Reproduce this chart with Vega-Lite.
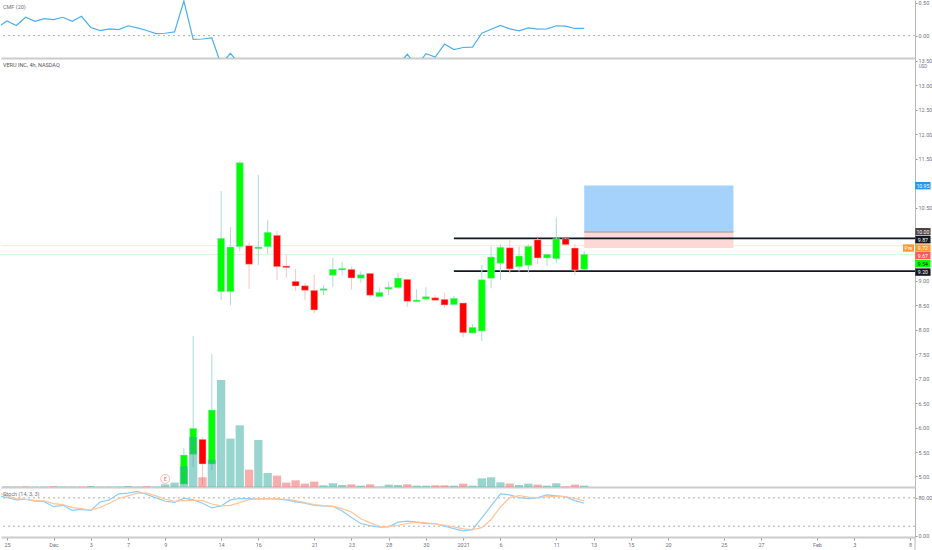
{
  "$schema": "https://vega.github.io/schema/vega-lite/v6.json",
  "background": "#ffffff",
  "padding": 0,
  "spacing": 0,
  "bounds": "flush",
  "config": {
    "view": {"stroke": null},
    "font": "Roboto",
    "axis": {"grid": false, "title": null, "labelFont": "Roboto", "labelFontSize": 5.5, "labelColor": "#6f7380", "labelOverlap": false, "labelBound": false, "labelFlush": false}
  },
  "datasets": {
    "candles": [
      {"bar":19,"open":4.846,"high":5.589,"low":4.826,"close":5.439},
      {"bar":20,"open":5.454,"high":7.873,"low":5.194,"close":5.985},
      {"bar":21,"open":5.76,"high":5.8,"low":4.826,"close":5.255},
      {"bar":22,"open":5.255,"high":7.505,"low":5.133,"close":6.36},
      {"bar":23,"open":8.779,"high":10.838,"low":8.609,"close":9.871},
      {"bar":24,"open":8.779,"high":10.096,"low":8.507,"close":9.693},
      {"bar":25,"open":9.699,"high":11.452,"low":9.611,"close":11.417},
      {"bar":26,"open":9.719,"high":9.789,"low":8.834,"close":9.339},
      {"bar":27,"open":9.658,"high":11.165,"low":9.325,"close":9.693},
      {"bar":28,"open":9.699,"high":10.251,"low":9.55,"close":9.994},
      {"bar":29,"open":9.932,"high":10.026,"low":9.018,"close":9.29},
      {"bar":30,"open":9.304,"high":9.544,"low":9.065,"close":9.27},
      {"bar":31,"open":8.991,"high":9.243,"low":8.793,"close":8.895},
      {"bar":32,"open":8.901,"high":8.951,"low":8.609,"close":8.807},
      {"bar":33,"open":8.807,"high":9.126,"low":8.337,"close":8.405},
      {"bar":34,"open":8.807,"high":8.91,"low":8.711,"close":8.84},
      {"bar":35,"open":9.114,"high":9.474,"low":8.881,"close":9.237},
      {"bar":36,"open":9.223,"high":9.38,"low":9.114,"close":9.257},
      {"bar":37,"open":9.237,"high":9.29,"low":8.82,"close":9.059},
      {"bar":38,"open":9.053,"high":9.196,"low":8.963,"close":9.126},
      {"bar":39,"open":9.155,"high":9.155,"low":8.656,"close":8.705},
      {"bar":40,"open":8.677,"high":8.869,"low":8.677,"close":8.766},
      {"bar":41,"open":8.834,"high":8.983,"low":8.711,"close":8.869},
      {"bar":42,"open":8.861,"high":9.161,"low":8.848,"close":9.059},
      {"bar":43,"open":9.032,"high":9.032,"low":8.472,"close":8.582},
      {"bar":44,"open":8.574,"high":8.828,"low":8.574,"close":8.609},
      {"bar":45,"open":8.629,"high":8.869,"low":8.609,"close":8.677},
      {"bar":46,"open":8.656,"high":8.711,"low":8.589,"close":8.603},
      {"bar":47,"open":8.623,"high":8.758,"low":8.452,"close":8.507},
      {"bar":48,"open":8.513,"high":8.691,"low":8.507,"close":8.644},
      {"bar":49,"open":8.548,"high":8.548,"low":7.846,"close":7.94},
      {"bar":50,"open":7.934,"high":8.118,"low":7.92,"close":8.051},
      {"bar":51,"open":7.975,"high":9.325,"low":7.771,"close":9.024},
      {"bar":52,"open":9.053,"high":9.707,"low":8.848,"close":9.488},
      {"bar":53,"open":9.36,"high":9.748,"low":9.024,"close":9.687},
      {"bar":54,"open":9.679,"high":9.85,"low":9.155,"close":9.243},
      {"bar":55,"open":9.29,"high":9.707,"low":9.188,"close":9.509},
      {"bar":56,"open":9.319,"high":9.748,"low":9.167,"close":9.707},
      {"bar":57,"open":9.842,"high":9.871,"low":9.345,"close":9.468},
      {"bar":58,"open":9.468,"high":9.544,"low":9.304,"close":9.544},
      {"bar":59,"open":9.454,"high":10.3,"low":9.366,"close":9.863},
      {"bar":60,"open":9.863,"high":9.871,"low":9.72,"close":9.74},
      {"bar":61,"open":9.672,"high":9.754,"low":9.12,"close":9.223},
      {"bar":62,"open":9.237,"high":9.617,"low":9.223,"close":9.544}
    ],
    "volume": [
      {"bar":0,"vol":5,"dir":"up"},{"bar":1,"vol":4,"dir":"up"},{"bar":2,"vol":6,"dir":"down"},{"bar":3,"vol":4,"dir":"up"},{"bar":4,"vol":5,"dir":"up"},
      {"bar":5,"vol":9,"dir":"down"},{"bar":6,"vol":4,"dir":"up"},{"bar":7,"vol":5,"dir":"up"},{"bar":8,"vol":5,"dir":"down"},{"bar":9,"vol":10,"dir":"up"},
      {"bar":10,"vol":4,"dir":"up"},{"bar":11,"vol":4,"dir":"up"},{"bar":12,"vol":5,"dir":"up"},{"bar":13,"vol":10,"dir":"up"},{"bar":14,"vol":4,"dir":"up"},
      {"bar":15,"vol":9,"dir":"down"},{"bar":16,"vol":5,"dir":"up"},{"bar":17,"vol":27,"dir":"up"},{"bar":18,"vol":44,"dir":"up"},
      {"bar":19,"vol":207,"dir":"up"},{"bar":20,"vol":500,"dir":"up"},{"bar":21,"vol":97,"dir":"down"},{"bar":22,"vol":274,"dir":"up"},
      {"bar":23,"vol":1070,"dir":"up"},{"bar":24,"vol":484,"dir":"up"},{"bar":25,"vol":617,"dir":"up"},{"bar":26,"vol":174,"dir":"down"},
      {"bar":27,"vol":470,"dir":"up"},{"bar":28,"vol":140,"dir":"up"},{"bar":29,"vol":114,"dir":"down"},{"bar":30,"vol":44,"dir":"down"},
      {"bar":31,"vol":67,"dir":"down"},{"bar":32,"vol":34,"dir":"down"},{"bar":33,"vol":54,"dir":"down"},{"bar":34,"vol":17,"dir":"up"},
      {"bar":35,"vol":37,"dir":"up"},{"bar":36,"vol":20,"dir":"up"},{"bar":37,"vol":27,"dir":"down"},{"bar":38,"vol":14,"dir":"up"},
      {"bar":39,"vol":27,"dir":"down"},{"bar":40,"vol":4,"dir":"up"},{"bar":41,"vol":24,"dir":"up"},{"bar":42,"vol":20,"dir":"up"},
      {"bar":43,"vol":27,"dir":"down"},{"bar":44,"vol":14,"dir":"up"},{"bar":45,"vol":14,"dir":"up"},{"bar":46,"vol":17,"dir":"down"},
      {"bar":47,"vol":17,"dir":"down"},{"bar":48,"vol":14,"dir":"up"},{"bar":49,"vol":34,"dir":"down"},{"bar":50,"vol":14,"dir":"up"},
      {"bar":51,"vol":87,"dir":"up"},{"bar":52,"vol":97,"dir":"up"},{"bar":53,"vol":47,"dir":"up"},{"bar":54,"vol":34,"dir":"down"},
      {"bar":55,"vol":20,"dir":"up"},{"bar":56,"vol":34,"dir":"up"},{"bar":57,"vol":24,"dir":"down"},{"bar":58,"vol":14,"dir":"up"},
      {"bar":59,"vol":37,"dir":"up"},{"bar":60,"vol":7,"dir":"down"},{"bar":61,"vol":24,"dir":"down"},{"bar":62,"vol":14,"dir":"up"}
    ],
    "cmf": [
      {"bar":-1,"cmf":0.128},{"bar":0,"cmf":0.221},{"bar":1,"cmf":0.154},{"bar":2,"cmf":0.277},{"bar":3,"cmf":0.215},{"bar":4,"cmf":0.256},
      {"bar":5,"cmf":0.241},{"bar":6,"cmf":0.277},{"bar":7,"cmf":0.215},{"bar":8,"cmf":0.292},{"bar":9,"cmf":0.123},{"bar":10,"cmf":0.077},
      {"bar":11,"cmf":0.103},{"bar":12,"cmf":0.092},{"bar":13,"cmf":0.149},{"bar":14,"cmf":0.118},{"bar":15,"cmf":0.077},{"bar":16,"cmf":0.031},
      {"bar":17,"cmf":0.036},{"bar":18,"cmf":0.056},{"bar":19,"cmf":0.523},{"bar":20,"cmf":-0.056},{"bar":21,"cmf":-0.051},{"bar":22,"cmf":-0.036},
      {"bar":23,"cmf":-0.436},{"bar":24,"cmf":-0.267},{"bar":25,"cmf":-0.436},{"bar":30,"cmf":-0.6},{"bar":36,"cmf":-0.6},{"bar":42,"cmf":-0.45},
      {"bar":43,"cmf":-0.282},{"bar":44,"cmf":-0.46},{"bar":45,"cmf":-0.272},{"bar":46,"cmf":-0.323},{"bar":47,"cmf":-0.128},{"bar":48,"cmf":-0.21},
      {"bar":49,"cmf":-0.179},{"bar":50,"cmf":-0.174},{"bar":51,"cmf":0.036},{"bar":52,"cmf":0.097},{"bar":53,"cmf":0.154},{"bar":54,"cmf":0.103},
      {"bar":55,"cmf":0.072},{"bar":56,"cmf":0.118},{"bar":57,"cmf":0.097},{"bar":58,"cmf":0.103},{"bar":59,"cmf":0.149},{"bar":60,"cmf":0.144},
      {"bar":61,"cmf":0.108},{"bar":62,"cmf":0.108}
    ],
    "stoch": [
      {"bar":-1,"k":84.3,"d":91.4},{"bar":0,"k":80.7,"d":84.3},{"bar":1,"k":75.7,"d":78.6},{"bar":2,"k":77.1,"d":77.1},{"bar":3,"k":72.9,"d":74.3},
      {"bar":4,"k":72.1,"d":73.6},{"bar":5,"k":61.4,"d":67.9},{"bar":6,"k":64.3,"d":65.7},{"bar":7,"k":53.6,"d":59.3},{"bar":8,"k":55.7,"d":57.1},
      {"bar":9,"k":53.6,"d":54.3},{"bar":10,"k":71.4,"d":60},{"bar":11,"k":75.7,"d":68.6},{"bar":12,"k":88.6,"d":78.6},{"bar":13,"k":90,"d":84.3},
      {"bar":14,"k":93.6,"d":90},{"bar":15,"k":87.1,"d":90},{"bar":16,"k":80,"d":84.3},{"bar":17,"k":72.9,"d":77.1},{"bar":18,"k":70.7,"d":72.9},
      {"bar":19,"k":79.3,"d":74.3},{"bar":20,"k":75.7,"d":75},{"bar":21,"k":68.6,"d":74.3},{"bar":22,"k":58.6,"d":67.1},{"bar":23,"k":62.9,"d":62.9},
      {"bar":24,"k":75.7,"d":64.3},{"bar":25,"k":78.6,"d":70},{"bar":26,"k":78.6,"d":76.4},{"bar":27,"k":77.1,"d":78.6},{"bar":28,"k":78.6,"d":77.9},
      {"bar":29,"k":77.1,"d":77.9},{"bar":30,"k":75.7,"d":77.1},{"bar":31,"k":71.4,"d":74.3},{"bar":32,"k":68.6,"d":70},{"bar":33,"k":64.3,"d":65.7},
      {"bar":34,"k":62.9,"d":63.6},{"bar":35,"k":62.1,"d":62.1},{"bar":36,"k":52.1,"d":57.1},{"bar":37,"k":38.6,"d":50},{"bar":38,"k":25.7,"d":35.7},
      {"bar":39,"k":21.4,"d":27.1},{"bar":40,"k":17.9,"d":20},{"bar":41,"k":18.6,"d":19.3},{"bar":42,"k":28.6,"d":22.1},{"bar":43,"k":30.7,"d":25.7},
      {"bar":44,"k":28.6,"d":28.6},{"bar":45,"k":25.7,"d":27.1},{"bar":46,"k":25.7,"d":25},{"bar":47,"k":20,"d":22.1},{"bar":48,"k":15,"d":18.6},
      {"bar":49,"k":10,"d":14.3},{"bar":50,"k":12.9,"d":12.9},{"bar":51,"k":37.9,"d":17.1},{"bar":52,"k":62.9,"d":34.3},{"bar":53,"k":88.6,"d":60.7},
      {"bar":54,"k":86.4,"d":80.7},{"bar":55,"k":80.7,"d":85},{"bar":56,"k":78.6,"d":81.4},{"bar":57,"k":80.7,"d":80.7},{"bar":58,"k":86.4,"d":82.1},
      {"bar":59,"k":84.3,"d":83.6},{"bar":60,"k":82.1,"d":82.9},{"bar":61,"k":74.3,"d":78.6},{"bar":62,"k":68.6,"d":73.6}
    ],
    "tags": [
      {"label":"10.95","at":10.947,"kind":"target","from":97.56,"to":99.2,"mid":98.38},
      {"label":"10.00","at":10.006,"kind":"entry","from":97.56,"to":99.2,"mid":98.38},
      {"label":"9.87","at":9.842,"kind":"level","from":97.56,"to":99.2,"mid":98.38},
      {"label":"Pre","at":9.672,"kind":"pre","from":96.24,"to":97.42,"mid":96.83},
      {"label":"9.72","at":9.672,"kind":"pre","from":97.56,"to":99.2,"mid":98.38},
      {"label":"9.67","at":9.515,"kind":"close","from":97.56,"to":99.2,"mid":98.38},
      {"label":"9.54","at":9.351,"kind":"last","from":97.56,"to":99.2,"mid":98.38},
      {"label":"9.20","at":9.18,"kind":"level","from":97.56,"to":99.2,"mid":98.38}
    ]
  },
  "vconcat": [
    {
      "width": 914,
      "height": 58,
      "layer": [
        {
          "data": {"values": [{"level": 0}]},
          "mark": {"type": "rule", "color": "#9a9a9a", "strokeWidth": 0.8, "strokeDash": [2, 3]},
          "encoding": {
            "y": {
              "field": "level",
              "type": "quantitative",
              "scale": {"domain": [-0.338, 0.538], "nice": false, "zero": false},
              "axis": {"orient": "right", "values": [0.5, 0], "format": ".2f", "labelOverlap": false, "domainColor": "#b8b8b8", "tickColor": "#999999", "tickSize": 2, "labelPadding": 1}
            }
          }
        },
        {
          "data": {"name": "cmf", "values": []},
          "mark": {"type": "line", "color": "#4cb0f0", "strokeWidth": 1.2, "clip": true},
          "encoding": {
            "x": {
              "field": "bar",
              "type": "quantitative",
              "scale": {"domain": [-0.644, 97.53], "nice": false, "zero": false},
              "axis": {"labels": false, "ticks": false, "domainColor": "#cccccc", "domainWidth": 2}
            },
            "y": {"field": "cmf", "type": "quantitative", "scale": {"domain": [-0.338, 0.538], "nice": false, "zero": false}}
          }
        },
        {
          "data": {"values": [{"name": "CMF (20)"}]},
          "mark": {"type": "text", "align": "left", "fontSize": 5.5, "color": "#6f7380"},
          "encoding": {
            "x": {"datum": -0.43, "type": "quantitative", "scale": {"domain": [-0.644, 97.53], "nice": false, "zero": false}},
            "y": {"datum": 0.43, "type": "quantitative", "scale": {"domain": [-0.338, 0.538], "nice": false, "zero": false}},
            "text": {"field": "name"}
          }
        }
      ]
    },
    {
      "width": 914,
      "height": 429,
      "layer": [
        {
          "layer": [
            {
              "data": {"values": [{"price": 9.72, "kind": "pre"}, {"price": 9.54, "kind": "last"}]},
              "mark": {"type": "rule", "strokeWidth": 1},
              "encoding": {
                "y": {
                  "field": "price",
                  "type": "quantitative",
                  "scale": {"domain": [4.785, 13.558], "nice": false, "zero": false},
                  "axis": {"orient": "right", "values": [5, 5.5, 6, 6.5, 7, 7.5, 8, 8.5, 9, 10.5, 11.5, 12, 12.5, 13, 13.5], "tickCount": 30, "format": ".2f", "labelOverlap": false, "domainColor": "#b8b8b8", "tickColor": "#999999", "tickSize": 2, "labelPadding": 1}
                },
                "color": {"condition": {"test": "datum.kind=='pre'", "value": "#ffe9d6"}, "value": "#d5fbd5"}
              }
            },
            {
              "data": {"values": [
                {"from": 62, "to": 78.03, "top": 10.95, "bottom": 10.0, "kind": "target"},
                {"from": 62, "to": 78.03, "top": 10.0, "bottom": 9.67, "kind": "stop"}
              ]},
              "mark": {"type": "rect"},
              "encoding": {
                "x": {
                  "field": "from",
                  "type": "quantitative",
                  "scale": {"domain": [-0.644, 97.53], "nice": false, "zero": false, "padding": 0},
                  "axis": {"labels": false, "ticks": false, "domainColor": "#cccccc", "domainWidth": 2}
                },
                "x2": {"field": "to"},
                "y": {"field": "top", "type": "quantitative", "scale": {"domain": [4.785, 13.558], "nice": false, "zero": false}},
                "y2": {"field": "bottom"},
                "color": {"condition": {"test": "datum.kind=='target'", "value": "#a5d2fa"}, "value": "#fcd9d6"}
              }
            },
            {
              "data": {"values": [{"from": 62, "to": 78.03, "price": 10.0}]},
              "mark": {"type": "rule", "color": "#c4a4a0", "strokeWidth": 1.5},
              "encoding": {
                "x": {"field": "from", "type": "quantitative", "scale": {"domain": [-0.644, 97.53], "nice": false, "zero": false, "padding": 0}},
                "x2": {"field": "to"},
                "y": {"field": "price", "type": "quantitative", "scale": {"domain": [4.785, 13.558], "nice": false, "zero": false}}
              }
            },
            {
              "data": {"values": [{"from": 48, "to": 97.53, "price": 9.87}, {"from": 48, "to": 97.53, "price": 9.2}]},
              "mark": {"type": "rule", "color": "#131722", "strokeWidth": 1.6},
              "encoding": {
                "x": {"field": "from", "type": "quantitative", "scale": {"domain": [-0.644, 97.53], "nice": false, "zero": false, "padding": 0}},
                "x2": {"field": "to"},
                "y": {"field": "price", "type": "quantitative", "scale": {"domain": [4.785, 13.558], "nice": false, "zero": false}}
              }
            },
            {
              "data": {"name": "candles", "values": []},
              "mark": {"type": "rule", "strokeWidth": 1, "clip": true},
              "encoding": {
                "x": {"field": "bar", "type": "quantitative", "scale": {"domain": [-0.644, 97.53], "nice": false, "zero": false, "padding": 0}},
                "y": {"field": "low", "type": "quantitative", "scale": {"domain": [4.785, 13.558], "nice": false, "zero": false}},
                "y2": {"field": "high"},
                "color": {"condition": {"test": "datum.close>=datum.open", "value": "#a8dcd8"}, "value": "#fcc4c2"}
              }
            },
            {
              "data": {"name": "candles", "values": []},
              "mark": {"type": "bar", "size": 7, "strokeWidth": 0.5, "clip": true},
              "encoding": {
                "x": {"field": "bar", "type": "quantitative", "scale": {"domain": [-0.644, 97.53], "nice": false, "zero": false, "padding": 0}},
                "y": {"field": "open", "type": "quantitative", "scale": {"domain": [4.785, 13.558], "nice": false, "zero": false}},
                "y2": {"field": "close"},
                "color": {"condition": {"test": "datum.close>=datum.open", "value": "#00ff00"}, "value": "#ff0000"},
                "stroke": {"condition": {"test": "datum.close>=datum.open", "value": "#a8dcd8"}, "value": "#fcc4c2"}
              }
            },
            {
              "data": {"values": [{"bar": 17, "price": 4.95, "name": "E"}]},
              "layer": [
                {
                  "mark": {"type": "point", "filled": true, "fill": "#ffffff", "stroke": "#f5a6a0", "strokeWidth": 0.8, "size": 80, "opacity": 1},
                  "encoding": {
                    "x": {"field": "bar", "type": "quantitative", "scale": {"domain": [-0.644, 97.53], "nice": false, "zero": false, "padding": 0}},
                    "y": {"field": "price", "type": "quantitative", "scale": {"domain": [4.785, 13.558], "nice": false, "zero": false}}
                  }
                },
                {
                  "mark": {"type": "text", "fontSize": 5.5, "color": "#e07a72"},
                  "encoding": {
                    "x": {"field": "bar", "type": "quantitative", "scale": {"domain": [-0.644, 97.53], "nice": false, "zero": false, "padding": 0}},
                    "y": {"field": "price", "type": "quantitative", "scale": {"domain": [4.785, 13.558], "nice": false, "zero": false}},
                    "text": {"field": "name"}
                  }
                }
              ]
            },
            {
              "data": {"values": [{"name": "VERU INC, 4h, NASDAQ"}]},
              "mark": {"type": "text", "align": "left", "fontSize": 5.5, "color": "#555555"},
              "encoding": {
                "x": {"datum": -0.43, "type": "quantitative", "scale": {"domain": [-0.644, 97.53], "nice": false, "zero": false, "padding": 0}},
                "y": {"datum": 13.41, "type": "quantitative", "scale": {"domain": [4.785, 13.558], "nice": false, "zero": false}},
                "text": {"field": "name"}
              }
            },
            {
              "data": {"values": [{"name": "USD"}]},
              "mark": {"type": "text", "align": "center", "fontSize": 4.5, "color": "#6f7380"},
              "encoding": {
                "x": {"datum": 98.38, "type": "quantitative", "scale": {"domain": [-0.644, 97.53], "nice": false, "zero": false, "padding": 0}},
                "y": {"datum": 13.37, "type": "quantitative", "scale": {"domain": [4.785, 13.558], "nice": false, "zero": false}},
                "text": {"field": "name"}
              }
            },
            {
              "data": {"name": "tags", "values": []},
              "mark": {"type": "rule", "strokeWidth": 7.4},
              "encoding": {
                "x": {"field": "from", "type": "quantitative", "scale": {"domain": [-0.644, 97.53], "nice": false, "zero": false, "padding": 0}},
                "x2": {"field": "to"},
                "y": {"field": "at", "type": "quantitative", "scale": {"domain": [4.785, 13.558], "nice": false, "zero": false}},
                "color": {
                  "field": "kind",
                  "type": "nominal",
                  "legend": null,
                  "scale": {
                    "domain": ["target", "entry", "level", "pre", "close", "last"],
                    "range": ["#2196f3", "#4e4444", "#131722", "#ff9838", "#ff5a5a", "#00ff00"]
                  }
                }
              }
            },
            {
              "data": {"name": "tags", "values": []},
              "mark": {"type": "text", "fontSize": 5.2, "align": "center"},
              "encoding": {
                "x": {"field": "mid", "type": "quantitative", "scale": {"domain": [-0.644, 97.53], "nice": false, "zero": false, "padding": 0}},
                "y": {"field": "at", "type": "quantitative", "scale": {"domain": [4.785, 13.558], "nice": false, "zero": false}},
                "text": {"field": "label"},
                "color": {"condition": {"test": "datum.kind=='last'", "value": "#131722"}, "value": "#ffffff"}
              }
            }
          ]
        },
        {
          "data": {"name": "volume", "values": []},
          "mark": {"type": "bar", "size": 8.3, "opacity": 0.47},
          "encoding": {
            "x": {"field": "bar", "type": "quantitative", "scale": {"domain": [-0.644, 97.53], "nice": false, "zero": false, "padding": 0}},
            "y": {"field": "vol", "type": "quantitative", "scale": {"domain": [0, 4290], "nice": false}, "axis": null},
            "y2": {"datum": 0},
            "color": {"condition": {"test": "datum.dir=='up'", "value": "#26a69a"}, "value": "#ef5350"}
          }
        }
      ],
      "resolve": {"scale": {"y": "independent"}, "axis": {"y": "independent"}}
    },
    {
      "width": 914,
      "height": 50,
      "layer": [
        {
          "data": {"values": [{"level": 80}, {"level": 20}]},
          "mark": {"type": "rule", "color": "#9a9a9a", "strokeWidth": 0.8, "strokeDash": [2, 3]},
          "encoding": {
            "y": {
              "field": "level",
              "type": "quantitative",
              "scale": {"domain": [-2.8, 103], "nice": false, "zero": false},
              "axis": {"orient": "right", "values": [80, 40, 0], "format": ".2f", "labelOverlap": false, "domainColor": "#b8b8b8", "tickColor": "#999999", "tickSize": 2, "labelPadding": 1}
            }
          }
        },
        {
          "data": {"name": "stoch", "values": []},
          "mark": {"type": "line", "color": "#8fcdf7", "strokeWidth": 1.2, "clip": true},
          "encoding": {
            "x": {
              "field": "bar",
              "type": "quantitative",
              "scale": {"domain": [-0.644, 97.53], "nice": false, "zero": false},
              "axis": {
                "values": [0, 5, 9, 13, 17, 23, 27, 33, 37, 41, 45, 49, 53, 59, 63, 67, 71, 77, 81, 87, 91, 97],
                "tickCount": 30,
                "labelExpr": "{'0':'25','5':'Dec','9':'3','13':'7','17':'9','23':'14','27':'16','33':'21','37':'23','41':'28','45':'30','49':'2021','53':'6','59':'11','63':'13','67':'15','71':'20','77':'25','81':'27','87':'Feb','91':'3','97':'8'}[datum.value]",
                "domainColor": "#cccccc",
                "domainWidth": 2,
                "tickColor": "#999999",
                "tickSize": 3,
                "labelPadding": 2,
                "labelAngle": 0
              }
            },
            "y": {"field": "k", "type": "quantitative", "scale": {"domain": [-2.8, 103], "nice": false, "zero": false}}
          }
        },
        {
          "data": {"name": "stoch", "values": []},
          "mark": {"type": "line", "color": "#ffc599", "strokeWidth": 1.2, "clip": true},
          "encoding": {
            "x": {"field": "bar", "type": "quantitative", "scale": {"domain": [-0.644, 97.53], "nice": false, "zero": false}},
            "y": {"field": "d", "type": "quantitative", "scale": {"domain": [-2.8, 103], "nice": false, "zero": false}}
          }
        },
        {
          "data": {"values": [{"name": "Stoch (14, 3, 3)"}]},
          "mark": {"type": "text", "align": "left", "fontSize": 5.5, "color": "#6f7380"},
          "encoding": {
            "x": {"datum": -0.43, "type": "quantitative", "scale": {"domain": [-0.644, 97.53], "nice": false, "zero": false}},
            "y": {"datum": 87.9, "type": "quantitative", "scale": {"domain": [-2.8, 103], "nice": false, "zero": false}},
            "text": {"field": "name"}
          }
        },
        {
          "data": {"values": [{"bar": 97.53, "top": -2.8, "bottom": -30}]},
          "mark": {"type": "rule", "color": "#b8b8b8", "strokeWidth": 1},
          "encoding": {
            "x": {"field": "bar", "type": "quantitative", "scale": {"domain": [-0.644, 97.53], "nice": false, "zero": false}},
            "y": {"field": "top", "type": "quantitative", "scale": {"domain": [-2.8, 103], "nice": false, "zero": false}},
            "y2": {"field": "bottom"}
          }
        }
      ]
    }
  ]
}
